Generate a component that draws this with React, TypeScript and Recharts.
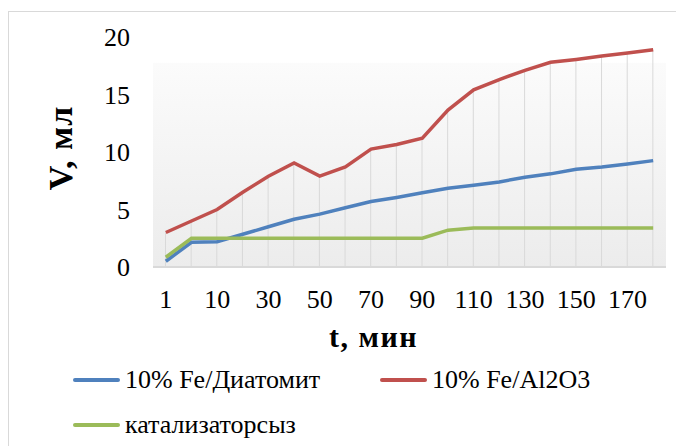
import {
  ComposedChart,
  Line,
  Bar,
  XAxis,
  YAxis,
  CartesianGrid,
  Legend,
} from "recharts";

const FONT = "'Liberation Serif', 'Times New Roman', serif";

// время, мин
const times = ["1", "5", "10", "20", "30", "40", "50", "60", "70", "80", "90", "100", "110", "120", "130", "140", "150", "160", "170", "180"];

const diatomite = [0.5, 2.15, 2.2, 2.85, 3.5, 4.15, 4.6, 5.15, 5.7, 6.05, 6.45, 6.85, 7.1, 7.4, 7.8, 8.1, 8.5, 8.7, 8.95, 9.25];
const alumina = [3.0, 4.0, 5.0, 6.5, 7.9, 9.05, 7.9, 8.7, 10.25, 10.65, 11.2, 13.65, 15.4, 16.3, 17.1, 17.8, 18.05, 18.35, 18.6, 18.9];
const noCatalyst = [0.85, 2.5, 2.5, 2.5, 2.5, 2.5, 2.5, 2.5, 2.5, 2.5, 2.5, 3.2, 3.4, 3.4, 3.4, 3.4, 3.4, 3.4, 3.4, 3.4];

const yTicks = [0, 5, 10, 15, 20];

const data = times.map((t, i) => ({
  t,
  diatomite: diatomite[i],
  alumina: alumina[i],
  noCat: noCatalyst[i],
  // drop line from the highest point to the axis
  drop: Math.max(diatomite[i], alumina[i], noCatalyst[i]),
}));

const legendPos: Record<string, { left: number; top: number }> = {
  diatomite: { left: 0, top: 0 },
  alumina: { left: 307, top: 0 },
  noCat: { left: 0, top: 45 },
};

function LegendBox({ payload }: any) {
  return (
    <div style={{ position: "relative", width: 600, height: 76 }}>
      {(payload || []).map((p: any) => {
        const pos = legendPos[p.dataKey];
        if (!pos) return null;
        return (
          <div
            key={p.dataKey}
            style={{
              position: "absolute",
              left: pos.left,
              top: pos.top,
              display: "flex",
              alignItems: "center",
              fontFamily: FONT,
              fontSize: 26,
              lineHeight: "30px",
              color: "#000",
              whiteSpace: "nowrap",
            }}
          >
            <span
              style={{
                display: "inline-block",
                width: 47,
                height: 4,
                borderRadius: 2,
                background: p.color,
                marginRight: 5,
              }}
            />
            {p.value}
          </div>
        );
      })}
    </div>
  );
}

export default function App() {
  return (
    <div
      style={{
        position: "absolute",
        left: 0,
        top: 0,
        width: 676,
        height: 446,
        background: "#fff",
        overflow: "hidden",
      }}
    >
      <div
        style={{
          position: "absolute",
          left: 8,
          top: 11,
          width: 720,
          height: 500,
          border: "1px solid #d9d9d9",
        }}
      />
      <ComposedChart
        width={676}
        height={446}
        data={data}
        margin={{ top: 37, right: 10, left: 0, bottom: 79 }}
        style={{ position: "absolute", left: 0, top: 0 }}
      >
        <defs>
          <linearGradient id="plotBg" x1="0" y1="0" x2="0" y2="1">
            <stop offset="0" stopColor="#ffffff" />
            <stop offset="0.11" stopColor="#ffffff" />
            <stop offset="0.115" stopColor="#fbfbfb" />
            <stop offset="1" stopColor="#ececec" />
          </linearGradient>
        </defs>
        <CartesianGrid horizontal={false} vertical={false} fill="url(#plotBg)" />
        <XAxis
          dataKey="t"
          interval={1}
          height={100}
          tickLine={false}
          tickMargin={17}
          axisLine={{ stroke: "#d9d9d9", strokeWidth: 2 }}
          tick={{ fill: "#000", fontSize: 26, fontFamily: FONT }}
          label={{
            content: ({ viewBox }: any) => (
              <text
                x={viewBox.x + viewBox.width / 2 - 36}
                y={viewBox.y + 80}
                textAnchor="middle"
                fontFamily={FONT}
                fontSize={30}
                fontWeight="bold"
                letterSpacing={1.5}
                fill="#000"
              >
                t, мин
              </text>
            ),
          }}
        />
        <YAxis
          width={153}
          domain={[0, 20]}
          ticks={yTicks}
          axisLine={false}
          tickLine={false}
          tickMargin={17}
          tick={{ fill: "#000", fontSize: 26, fontFamily: FONT }}
          label={{
            content: ({ viewBox }: any) => {
              const x = viewBox.x + 72;
              const y = viewBox.y + 111;
              return (
                <text
                  x={x}
                  y={y}
                  transform={`rotate(-90, ${x}, ${y})`}
                  textAnchor="middle"
                  fontFamily={FONT}
                  fontSize={34}
                  fontWeight="bold"
                  letterSpacing={1}
                  fill="#000"
                >
                  V, мл
                </text>
              );
            },
          }}
        />
        <Bar dataKey="drop" barSize={1} fill="#d9d9d9" legendType="none" isAnimationActive={false} />
        <Line
          dataKey="diatomite"
          name="10% Fe/Диатомит"
          stroke="#4f81bd"
          strokeWidth={3.5}
          dot={false}
          isAnimationActive={false}
        />
        <Line
          dataKey="alumina"
          name="10% Fe/Al2O3"
          stroke="#c0504d"
          strokeWidth={3.5}
          dot={false}
          isAnimationActive={false}
        />
        <Line
          dataKey="noCat"
          name="катализаторсыз"
          stroke="#9bbb59"
          strokeWidth={3.5}
          dot={false}
          isAnimationActive={false}
        />
        <Legend
          layout="horizontal"
          verticalAlign="middle"
          align="center"
          content={<LegendBox />}
          wrapperStyle={{ top: 365, left: 73, width: 600, height: 76 }}
        />
      </ComposedChart>
    </div>
  );
}
